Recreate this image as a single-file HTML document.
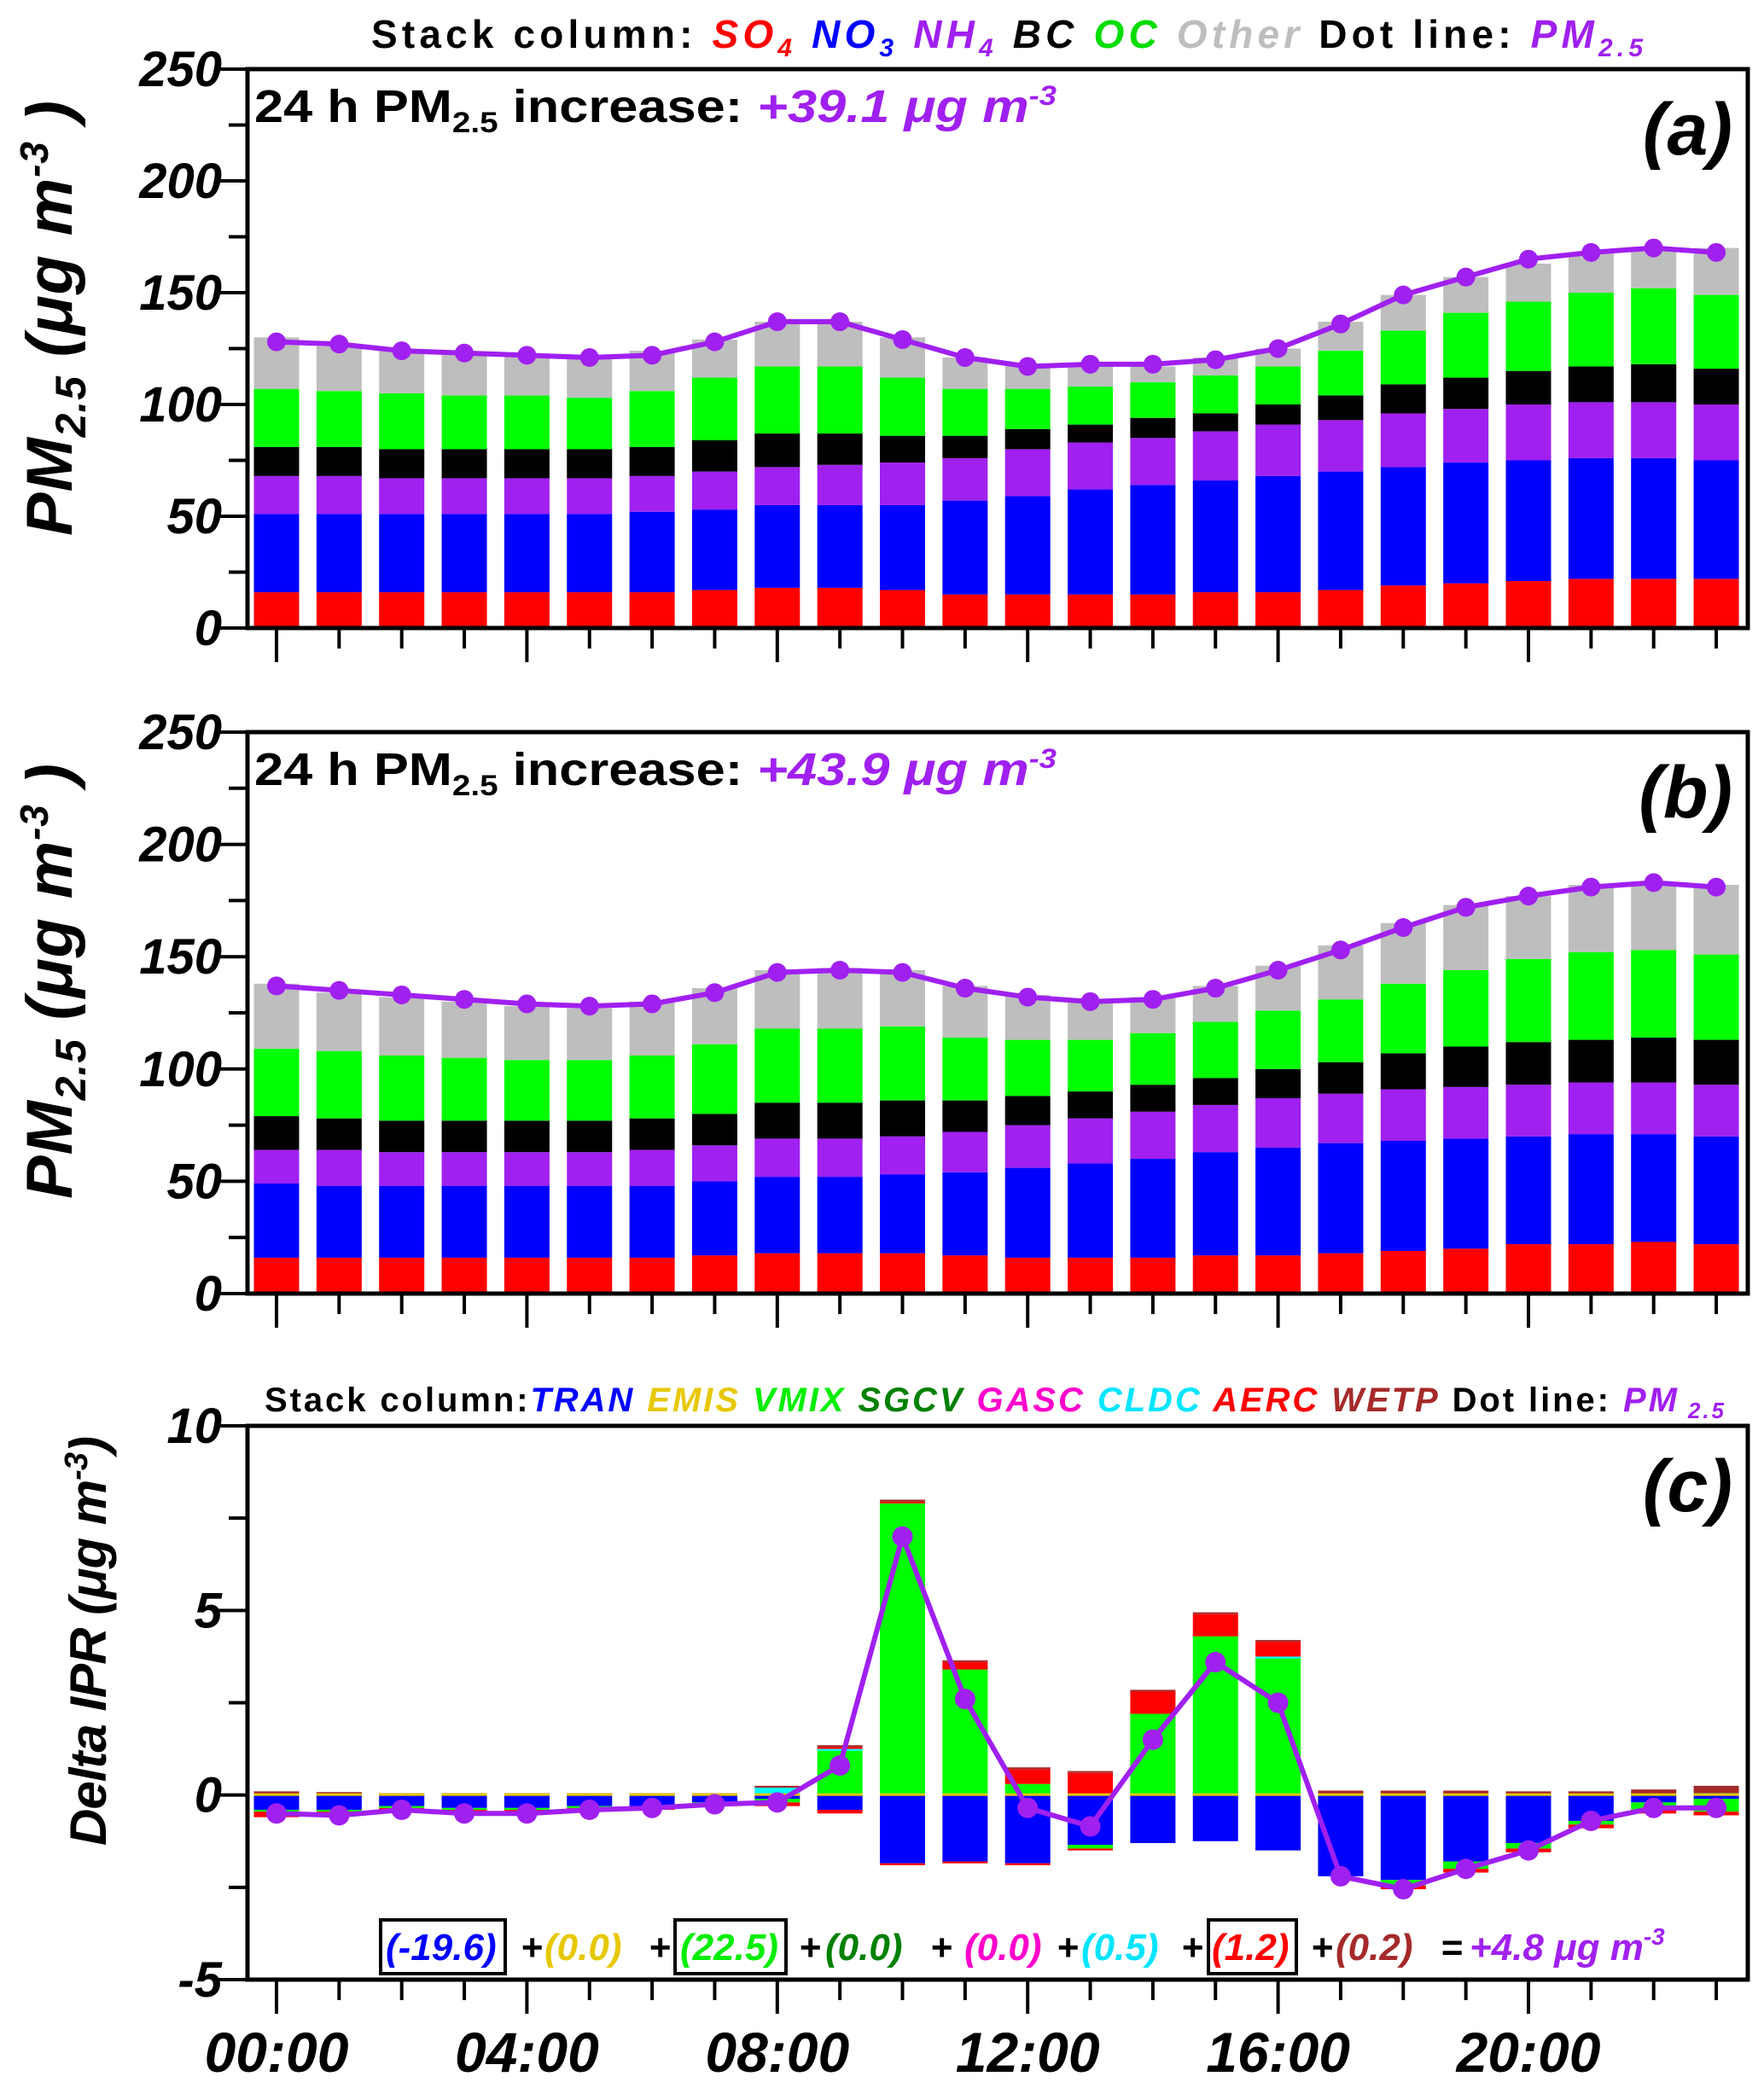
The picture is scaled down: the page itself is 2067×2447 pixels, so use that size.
<!DOCTYPE html>
<html><head><meta charset="utf-8"><style>
html,body{margin:0;padding:0;background:#fff}
svg{display:block;font-family:"Liberation Sans",sans-serif;font-weight:bold}
</style></head><body>
<svg id="c" width="2067" height="2447" viewBox="0 0 2067 2447"></svg>
<script>
const hours=["00:00","01:00","02:00","03:00","04:00","05:00","06:00","07:00","08:00","09:00","10:00","11:00","12:00","13:00","14:00","15:00","16:00","17:00","18:00","19:00","20:00","21:00","22:00","23:00"];
const xTickLabels=["00:00","04:00","08:00","12:00","16:00","20:00"];
// panel a: cumulative tops
const aSO4=[16,16,16,16,16,16,16,17,18,18,17,15,15,15,15,16,16,17,19,20,21,22,22,22];
const aNO3=[51,51,51,51,51,51,52,53,55,55,55,57,59,62,64,66,68,70,72,74,75,76,76,75];
const aNH4=[68,68,67,67,67,67,68,70,72,73,74,76,80,83,85,88,91,93,96,98,100,101,101,100];
const aBC=[81,81,80,80,80,80,81,84,87,87,86,86,89,91,94,96,100,104,109,112,115,117,118,116];
const aOC=[107,106,105,104,104,103,106,112,117,117,112,107,107,108,110,113,117,124,133,141,146,150,152,149];
const aOther=[130,126,124,123,122,121,124,129,137,137,130,121,118,117,117,121,125,137,149,157,163,168,170,170];
const aPM=[128,127,124,123,122,121,122,128,137,137,129,121,117,118,118,120,125,136,149,157,165,168,170,168];
// panel b
const bSO4=[16,16,16,16,16,16,16,17,18,18,18,17,16,16,16,17,17,18,19,20,22,22,23,22];
const bNO3=[49,48,48,48,48,48,48,50,52,52,53,54,56,58,60,63,65,67,68,69,70,71,71,70];
const bNH4=[64,64,63,63,63,63,64,66,69,69,70,72,75,78,81,84,87,89,91,92,93,94,94,93];
const bBC=[79,78,77,77,77,77,78,80,85,85,86,86,88,90,93,96,100,103,107,110,112,113,114,113];
const bOC=[109,108,106,105,104,104,106,111,118,118,119,114,113,113,116,121,126,131,138,144,149,152,153,151];
const bOther=[138,134,132,130,128,127,130,136,144,145,144,137,133,130,132,137,146,155,165,173,177,182,183,182];
const bPM=[137,135,133,131,129,128,129,134,143,144,143,136,132,130,131,136,144,153,163,172,177,181,183,181];
// panel c (component values)
const cTRAN=[-0.4,-0.4,-0.3,-0.35,-0.35,-0.3,-0.3,-0.2,-0.1,-0.4,-1.85,-1.8,-1.85,-1.35,-1.3,-1.25,-1.5,-2.2,-2.3,-1.8,-1.3,-0.7,-0.2,-0.1];
const cVMIXneg=[-0.05,-0.05,-0.05,-0.05,-0.05,-0.05,-0.05,-0.05,-0.1,0,0,0,0,-0.1,0,0,0,0,-0.15,-0.2,-0.15,-0.1,-0.2,-0.35];
const cAERCneg=[-0.15,-0.1,-0.1,-0.1,-0.1,-0.1,-0.05,-0.05,-0.1,-0.1,-0.05,-0.05,-0.05,-0.05,0,0,0,0,-0.1,-0.1,-0.1,-0.1,-0.1,-0.1];
const cCLDC=[0,0,0,0,0,0,0,0,0.2,0.05,0,0,0,0,0,0,0.05,0,0,0,0,0,0,0.05];
const cVMIX=[0,0,0,0,0,0,0,0,0,1.2,7.9,3.4,0.3,0,2.2,4.3,3.7,0,0,0,0,0,0,0];
const cAERC=[0,0,0,0,0,0,0,0,0,0.05,0.05,0.2,0.4,0.6,0.6,0.6,0.4,0,0,0,0,0,0,0];
const cWETP=[0.1,0.08,0.05,0.05,0.05,0.05,0.05,0.05,0.05,0.05,0.05,0.05,0.05,0.05,0.05,0.05,0.05,0.12,0.12,0.12,0.1,0.1,0.15,0.2];
const cPM=[-0.5,-0.55,-0.4,-0.5,-0.5,-0.4,-0.35,-0.25,-0.2,0.8,7.0,2.6,-0.35,-0.85,1.5,3.6,2.5,-2.2,-2.55,-2.0,-1.5,-0.7,-0.35,-0.35];

const svg=document.getElementById('c');
const NS='http://www.w3.org/2000/svg';
function mk(tag,attrs,parent){const e=document.createElementNS(NS,tag);for(const k in attrs)e.setAttribute(k,attrs[k]);(parent||svg).appendChild(e);return e;}
const X0=290,X1=2048;
const xOf=i=>324+i*73.35;
const BW=53;
const PUR='#a020f0';

function frame(top,bot,yMin,yMax,majStep,minStep,tickFmt,name){
  const y=v=>bot-(v-yMin)/(yMax-yMin)*(bot-top);
  const g=mk('g',{});
  
  
  for(let v=yMin;v<=yMax+1e-9;v+=minStep){
    const maj=Math.abs((v-yMin)/majStep-Math.round((v-yMin)/majStep))<1e-6;
    mk('line',{x1:X0-(maj?34:22),x2:X0,y1:y(v),y2:y(v),stroke:'#000','stroke-width':4},g);
    if(maj){const t=mk('text',{x:X0-30,y:y(v)+20,'text-anchor':'end','font-size':58,'font-style':'italic'},g);t.textContent=tickFmt(v);
      }
  }
  for(let i=0;i<24;i++){const maj=i%4==0;
    mk('line',{x1:xOf(i),x2:xOf(i),y1:bot,y2:bot+(maj?40:24),stroke:'#000','stroke-width':4},g);}
  mk('rect',{x:X0,y:top,width:X1-X0,height:bot-top,fill:'none',stroke:'#000','stroke-width':5},g);
  return y;
}
function stackPanel(top,bot,series,pm,name,lbl,inc){
  const cols=['#ff0000','#0000ff','#a020f0','#000000','#00ff00','#bebebe'];
  const nm=['so4','no3','nh4','bc','oc','other'];
  const y=v=>bot-v/250*(bot-top);
  for(let i=0;i<24;i++){let prev=0;
    series.forEach((s,k)=>{const r=mk('rect',{x:xOf(i)-BW/2,y:y(s[i]),width:BW,height:Math.max(0,y(prev)-y(s[i])),fill:cols[k]});
      prev=s[i];});}
  frame(top,bot,0,250,50,25,v=>v,name);
  const line=mk('polyline',{points:pm.map((v,i)=>xOf(i)+','+y(v)).join(' '),fill:'none',stroke:PUR,'stroke-width':6});
  
  pm.forEach((v,i)=>{const c=mk('circle',{cx:xOf(i),cy:y(v),r:11,fill:PUR});});
  const t=mk('text',{x:298,y:top+62,'font-size':54,textLength:940,lengthAdjust:'spacingAndGlyphs'});
  
  t.innerHTML='24 h PM<tspan font-size="34" dy="12">2.5</tspan><tspan dy="-12"> increase:  </tspan><tspan fill="'+PUR+'" font-style="italic">'+inc+' μg  m<tspan font-size="32" dy="-20">-3</tspan></tspan>';
  const p=mk('text',{x:2030,y:top+100,'text-anchor':'end','font-size':86,'font-style':'italic'});p.textContent=lbl;
  
  const yt=mk('text',{transform:'translate(84,'+(top+292)+') rotate(-90)','text-anchor':'middle','font-size':76,'font-style':'italic',textLength:510,lengthAdjust:'spacing'});
  
  yt.innerHTML='PM<tspan font-size="50" dy="16">2.5</tspan><tspan dy="-16"> (μg  m</tspan><tspan font-size="46" dy="-28">-3</tspan><tspan dy="28"> )</tspan>';
}
// legend top
const lg=mk('text',{x:435,y:56,'font-size':46,textLength:1490,lengthAdjust:'spacing'});

lg.innerHTML='Stack column:  <tspan fill="#ff0000" font-style="italic">SO<tspan font-size="30" dy="10">4</tspan></tspan><tspan dy="-10"> </tspan><tspan fill="#0000ff" font-style="italic">NO<tspan font-size="30" dy="10">3</tspan></tspan><tspan dy="-10"> </tspan><tspan fill="#a020f0" font-style="italic">NH<tspan font-size="30" dy="10">4</tspan></tspan><tspan dy="-10" font-style="italic"> BC </tspan><tspan fill="#00dd00" font-style="italic">OC </tspan><tspan fill="#bebebe" font-style="italic">Other</tspan><tspan>        Dot line: </tspan><tspan fill="#a020f0" font-style="italic">PM<tspan font-size="30" dy="10">2.5</tspan></tspan>';

stackPanel(81,736,[aSO4,aNO3,aNH4,aBC,aOC,aOther],aPM,'panel-a','(a)','+39.1');
stackPanel(858,1516,[bSO4,bNO3,bNH4,bBC,bOC,bOther],bPM,'panel-b','(b)','+43.9');

// panel c
const cTop=1671,cBot=2320;
const yc=v=>cBot-(v+5)/15*(cBot-cTop);
const posS=[[cVMIX,'#00ff00','vmix'],[cCLDC,'#00ffff','cldc'],[cAERC,'#ff0000','aerc'],[cWETP,'#a52a2a','wetp']];
const negS=[[cTRAN,'#0000ff','tran'],[cVMIXneg,'#00ff00','vmix-neg'],[cAERCneg,'#ff0000','aerc-neg']];
for(let i=0;i<24;i++){
  let p=0;posS.forEach(([s,c,n])=>{if(s[i]>0){const r=mk('rect',{x:xOf(i)-BW/2,y:yc(p+s[i]),width:BW,height:yc(p)-yc(p+s[i]),fill:c});p+=s[i];}});
  let q=0;negS.forEach(([s,c,n])=>{if(s[i]<0){const r=mk('rect',{x:xOf(i)-BW/2,y:yc(q),width:BW,height:yc(q+s[i])-yc(q),fill:c});q+=s[i];}});
  mk('rect',{x:xOf(i)-BW/2,y:yc(0)-2,width:BW,height:3,fill:'#e6c800'});
}
frame(cTop,cBot,-5,10,5,2.5,v=>v,'panel-c');
const cl=mk('polyline',{points:cPM.map((v,i)=>xOf(i)+','+yc(v)).join(' '),fill:'none',stroke:PUR,'stroke-width':6});

cPM.forEach((v,i)=>{const c=mk('circle',{cx:xOf(i),cy:yc(v),r:12,fill:PUR});});
hours.forEach((h,i)=>{if(xTickLabels.includes(h)){const t=mk('text',{x:xOf(i),y:2428,'text-anchor':'middle','font-size':66,'font-style':'italic'});t.textContent=h;}});
const pc=mk('text',{x:2030,y:cTop+100,'text-anchor':'end','font-size':86,'font-style':'italic'});pc.textContent='(c)';

const yt=mk('text',{transform:'translate(124,1923) rotate(-90)','text-anchor':'middle','font-size':60,'font-style':'italic',textLength:480,lengthAdjust:'spacing'});

yt.innerHTML='Delta IPR (μg m<tspan font-size="38" dy="-22">-3</tspan><tspan dy="22">)</tspan>';
const lc=mk('text',{x:310,y:1654,'font-size':40,textLength:1710,lengthAdjust:'spacing'});

lc.innerHTML='Stack column:<tspan font-style="italic" fill="#0000ff">TRAN </tspan><tspan font-style="italic" fill="#e6c800">EMIS </tspan><tspan font-style="italic" fill="#00ee00">VMIX </tspan><tspan font-style="italic" fill="#008000">SGCV </tspan><tspan font-style="italic" fill="#ff00cc">GASC </tspan><tspan font-style="italic" fill="#00e5ff">CLDC </tspan><tspan font-style="italic" fill="#ff0000">AERC </tspan><tspan font-style="italic" fill="#a52a2a">WETP</tspan><tspan>      Dot line: </tspan><tspan font-style="italic" fill="#a020f0">PM<tspan font-size="26" dy="8"> 2.5</tspan></tspan>';
// sum equation with explicit positions
const sm=mk('text',{y:2297,'font-size':44,'font-style':'italic'});

const parts=[[452,'#0000ff','(-19.6)'],[610,'#000','+'],[638,'#e6c800','(0.0)'],[760,'#000','+'],[797,'#00ee00','(22.5)'],[936,'#000','+'],[967,'#008000','(0.0)'],[1090,'#000','+'],[1130,'#ff00cc','(0.0)'],[1238,'#000','+'],[1267,'#00e5ff','(0.5)'],[1384,'#000','+'],[1420,'#ff0000','(1.2)'],[1536,'#000','+'],[1565,'#a52a2a','(0.2)'],[1688,'#000','=']];
sm.innerHTML=parts.map(([x,c,t])=>'<tspan x="'+x+'" fill="'+c+'">'+t+'</tspan>').join('')+'<tspan x="1722" fill="#a020f0">+4.8 μg m<tspan font-size="28" dy="-18">-3</tspan></tspan>';
[[446,2250,146],[791,2250,130],[1416,2250,103]].forEach(([x,y,w])=>{const r=mk('rect',{x:x,y:y,width:w,height:63,fill:'none',stroke:'#000','stroke-width':4});});
</script>
</body></html>
